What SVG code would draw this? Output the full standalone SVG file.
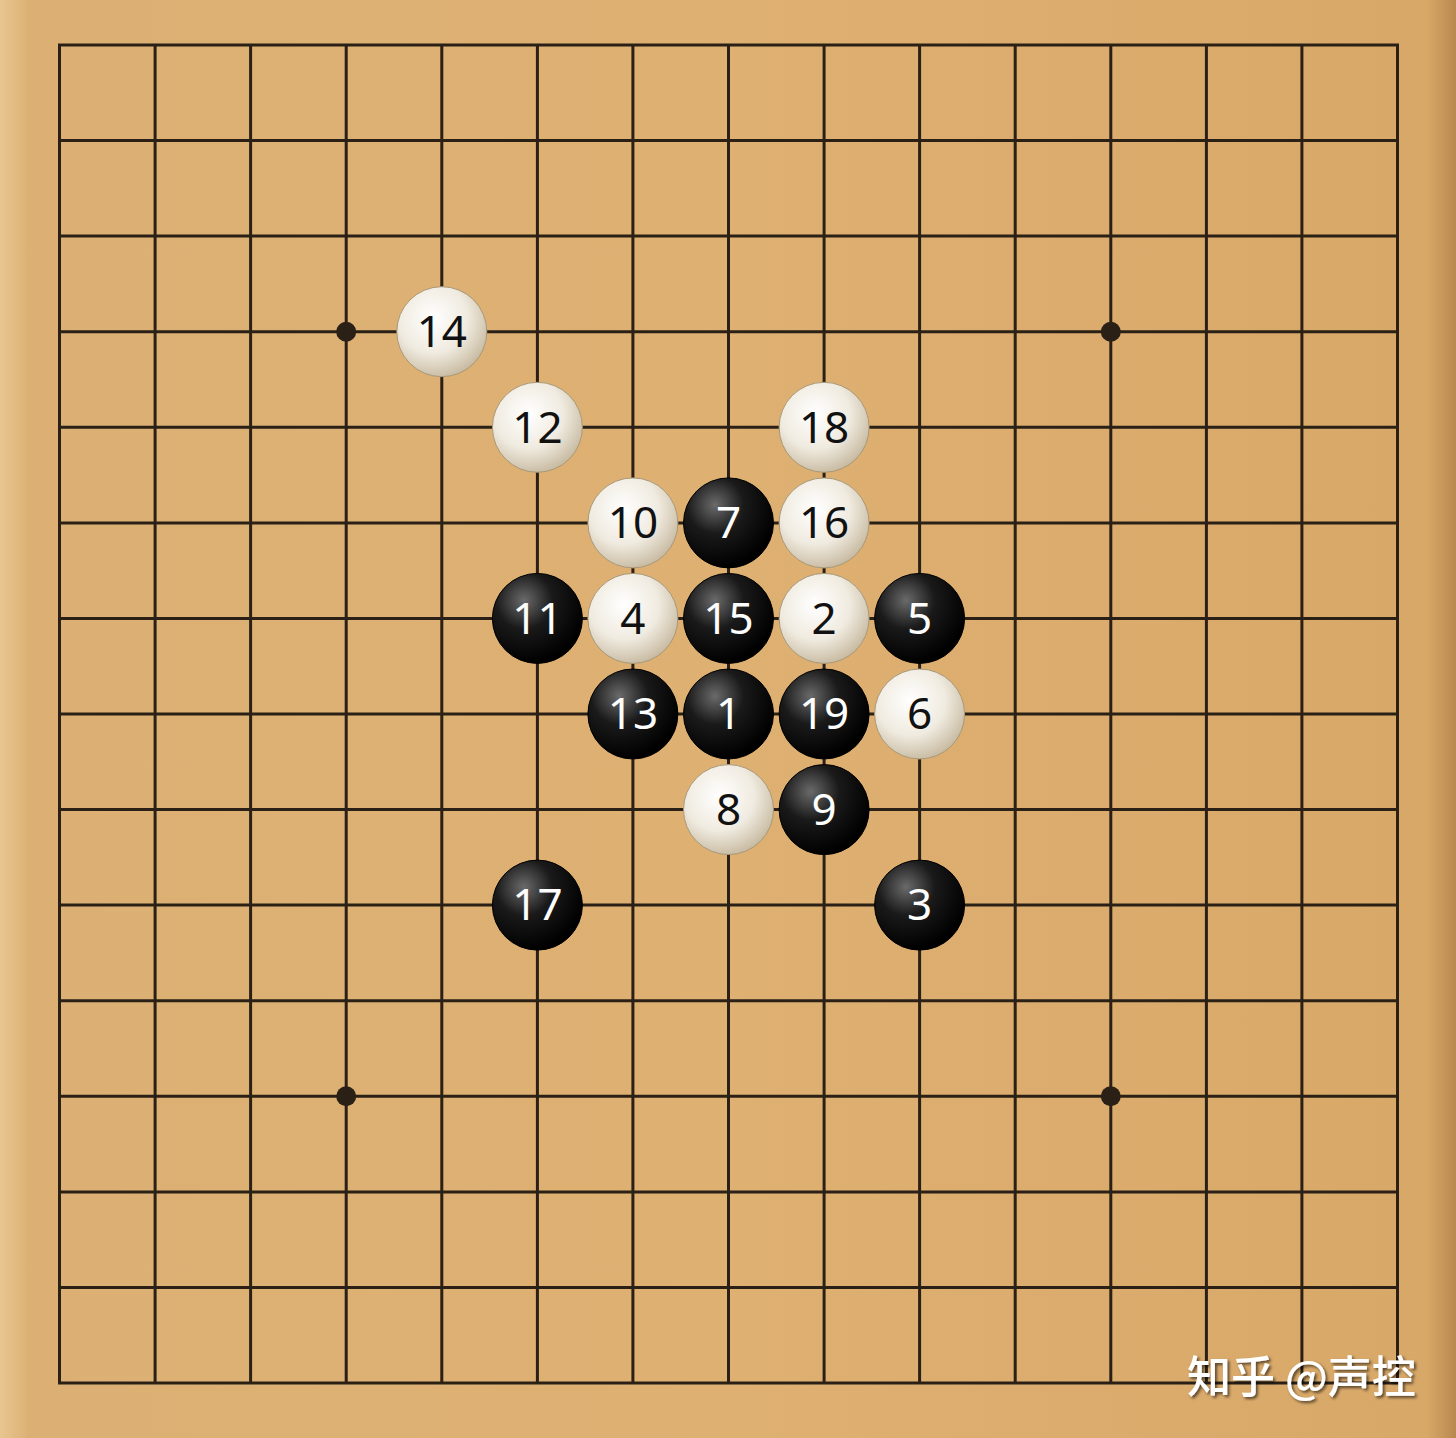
<svg xmlns="http://www.w3.org/2000/svg" width="1456" height="1438" viewBox="0 0 1456 1438">
<defs>
<linearGradient id="wood" x1="0" y1="0" x2="1" y2="0">
<stop offset="0" stop-color="#e8c690"/>
<stop offset="0.02" stop-color="#dcb074"/>
<stop offset="0.5" stop-color="#deb072"/>
<stop offset="0.98" stop-color="#d8a868"/>
<stop offset="1" stop-color="#b88850"/>
</linearGradient>
<radialGradient id="wg" cx="0.4" cy="0.35" r="0.7">
<stop offset="0" stop-color="#ffffff"/>
<stop offset="0.55" stop-color="#f0ebe0"/>
<stop offset="1" stop-color="#c4b69c"/>
</radialGradient>
<radialGradient id="bg" cx="0.35" cy="0.3" r="0.7">
<stop offset="0" stop-color="#6a6a6a"/>
<stop offset="0.45" stop-color="#1a1a1a"/>
<stop offset="1" stop-color="#000000"/>
</radialGradient>
<filter id="sh" x="-20%" y="-20%" width="140%" height="140%">
<feDropShadow dx="2" dy="2" stdDeviation="1.5" flood-color="#000" flood-opacity="0.6"/>
</filter>
</defs>
<style>
.g{stroke:#2a2016;stroke-width:3;fill:none}
.w{fill:url(#wg);stroke:#a89878;stroke-width:1}
.b{fill:url(#bg);stroke:#000;stroke-width:1}
.t{font-family:"Noto Sans","DejaVu Sans",sans-serif;font-size:44px;text-anchor:middle}
.tw{fill:#111}
.tb{fill:#fff}
.wm{font-family:"Noto Sans CJK SC","Noto Sans",sans-serif;font-size:44px;font-weight:500;fill:#fff;filter:url(#sh)}
</style>
<rect x="0" y="0" width="1456" height="1438" fill="url(#wood)"/>
<g id="grid" class="g">
<rect x="59.5" y="45" width="1338" height="1338"/>
<path d="M155.1 45V1383M250.6 45V1383M346.2 45V1383M441.8 45V1383M537.4 45V1383M632.9 45V1383M728.5 45V1383M824.1 45V1383M919.6 45V1383M1015.2 45V1383M1110.8 45V1383M1206.4 45V1383M1301.9 45V1383"/>
<path d="M59.5 140.6H1397.5M59.5 236.1H1397.5M59.5 331.7H1397.5M59.5 427.3H1397.5M59.5 522.9H1397.5M59.5 618.4H1397.5M59.5 714H1397.5M59.5 809.6H1397.5M59.5 905.1H1397.5M59.5 1000.7H1397.5M59.5 1096.3H1397.5M59.5 1191.9H1397.5M59.5 1287.4H1397.5"/>
</g>
<g id="stars" fill="#2a2016">
<circle cx="346.2" cy="331.7" r="10"/>
<circle cx="1110.8" cy="331.7" r="10"/>
<circle cx="346.2" cy="1096.3" r="10"/>
<circle cx="1110.8" cy="1096.3" r="10"/>
</g>
<g id="connectors"></g>
<g id="s14"><circle class="w" cx="441.8" cy="331.7" r="45"/><text class="t tw" x="441.8" y="347">14</text></g>
<g id="s12"><circle class="w" cx="537.4" cy="427.3" r="45"/><text class="t tw" x="537.4" y="443">12</text></g>
<g id="s18"><circle class="w" cx="824.1" cy="427.3" r="45"/><text class="t tw" x="824.1" y="443">18</text></g>
<g id="s10"><circle class="w" cx="632.9" cy="522.9" r="45"/><text class="t tw" x="632.9" y="538">10</text></g>
<g id="s7"><circle class="b" cx="728.5" cy="522.9" r="45"/><text class="t tb" x="728.5" y="538">7</text></g>
<g id="s16"><circle class="w" cx="824.1" cy="522.9" r="45"/><text class="t tw" x="824.1" y="538">16</text></g>
<g id="s11"><circle class="b" cx="537.4" cy="618.4" r="45"/><text class="t tb" x="537.4" y="634">11</text></g>
<g id="s4"><circle class="w" cx="632.9" cy="618.4" r="45"/><text class="t tw" x="632.9" y="634">4</text></g>
<g id="s15"><circle class="b" cx="728.5" cy="618.4" r="45"/><text class="t tb" x="728.5" y="634">15</text></g>
<g id="s2"><circle class="w" cx="824.1" cy="618.4" r="45"/><text class="t tw" x="824.1" y="634">2</text></g>
<g id="s5"><circle class="b" cx="919.6" cy="618.4" r="45"/><text class="t tb" x="919.6" y="634">5</text></g>
<g id="s13"><circle class="b" cx="632.9" cy="714" r="45"/><text class="t tb" x="632.9" y="729">13</text></g>
<g id="s1"><circle class="b" cx="728.5" cy="714" r="45"/><text class="t tb" x="728.5" y="729">1</text></g>
<g id="s19"><circle class="b" cx="824.1" cy="714" r="45"/><text class="t tb" x="824.1" y="729">19</text></g>
<g id="s6"><circle class="w" cx="919.6" cy="714" r="45"/><text class="t tw" x="919.6" y="729">6</text></g>
<g id="s8"><circle class="w" cx="728.5" cy="809.6" r="45"/><text class="t tw" x="728.5" y="825">8</text></g>
<g id="s9"><circle class="b" cx="824.1" cy="809.6" r="45"/><text class="t tb" x="824.1" y="825">9</text></g>
<g id="s17"><circle class="b" cx="537.4" cy="905.1" r="45"/><text class="t tb" x="537.4" y="920">17</text></g>
<g id="s3"><circle class="b" cx="919.6" cy="905.1" r="45"/><text class="t tb" x="919.6" y="920">3</text></g>
<text class="wm" x="1187" y="1393">知乎 @声控</text>
</svg>
